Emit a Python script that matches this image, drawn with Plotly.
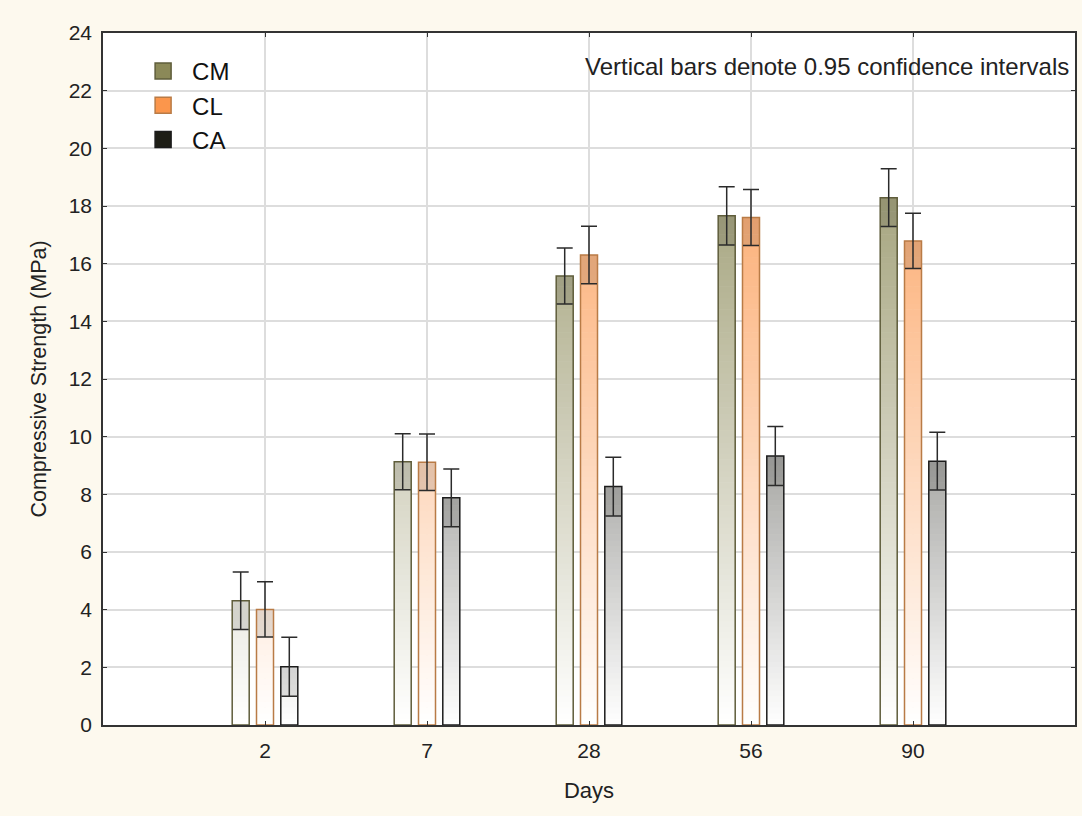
import plotly.graph_objects as go

# ---------------- data ----------------
days = ["2", "7", "28", "56", "90"]
series = ["CM", "CL", "CA"]
cm_vals = [4.31, 9.13, 15.57, 17.66, 18.29]
cl_vals = [4.01, 9.11, 16.30, 17.60, 16.79]
ca_vals = [2.02, 7.88, 8.27, 9.33, 9.15]
cm_err = [1.00, 0.97, 0.97, 1.01, 1.00]
cl_err = [0.96, 0.98, 1.00, 0.97, 0.96]
ca_err = [1.02, 1.00, 1.02, 1.02, 1.00]
y_ticks = [0, 2, 4, 6, 8, 10, 12, 14, 16, 18, 20, 22, 24]

# ---------------- styles ----------------
values = {"CM": cm_vals, "CL": cl_vals, "CA": ca_vals}
errors = {"CM": cm_err, "CL": cl_err, "CA": ca_err}
base_rgb = {"CM": (139, 137, 88), "CL": (251, 150, 76), "CA": (30, 30, 22)}
edge_col = {"CM": "#5f5d3b", "CL": "#b97b46", "CA": "#1c1c1c"}
bar_w = 0.105
centers = {"CM": -0.15, "CL": 0.0, "CA": 0.15}
YMAX = 24.0
SEG = 0.2
FONT = "Liberation Sans, Arial, sans-serif"


def blend(rgb, f):
    f = max(0.0, min(1.0, f))
    r, g, b = (round(255 - f * (255 - c)) for c in rgb)
    return f"rgb({r},{g},{b})"


fig = go.Figure()

# gradient-filled bars built from stacked thin segments
for s in series:
    xs, bases, hs, cols = [], [], [], []
    for d, v in zip(days, values[s]):
        k = 0
        while k * SEG < v:
            lo = k * SEG
            hi = min(v, lo + SEG)
            xs.append(d)
            bases.append(lo)
            hs.append(hi - lo + (0.02 if hi < v else 0))
            cols.append(blend(base_rgb[s], (lo + hi) / 2 / YMAX))
            k += 1
    fig.add_trace(go.Bar(
        x=xs, y=hs, base=bases, width=bar_w, offset=centers[s] - bar_w / 2,
        marker=dict(color=cols, line=dict(width=0)),
        showlegend=False, hoverinfo="skip",
    ))

# slightly darker box between lower CI bound and mean
for s in series:
    fig.add_trace(go.Bar(
        x=days, y=errors[s], base=[v - e for v, e in zip(values[s], errors[s])],
        width=bar_w, offset=centers[s] - bar_w / 2,
        marker=dict(color="rgba(0,0,0,0.10)", line=dict(width=0)),
        showlegend=False, hoverinfo="skip",
    ))

# outlines + confidence-interval whiskers
for s in series:
    fig.add_trace(go.Bar(
        x=days, y=values[s], width=bar_w, offset=centers[s] - bar_w / 2,
        marker=dict(color="rgba(0,0,0,0)", line=dict(color=edge_col[s], width=1.5)),
        error_y=dict(type="data", array=errors[s], color="#2b2b2b", thickness=1.5, width=8),
        name=s, showlegend=False,
    ))

# legend entries
for s in series:
    fig.add_trace(go.Scatter(
        x=[None], y=[None], mode="markers", name=s,
        marker=dict(symbol="square", size=16, color=blend(base_rgb[s], 1.0),
                    line=dict(color=edge_col[s], width=1.5)),
    ))

fig.update_layout(
    width=1082, height=816,
    margin=dict(l=103, r=5, t=33, b=91),
    paper_bgcolor="#fdf9ee",
    plot_bgcolor="white",
    barmode="overlay",
    font=dict(family=FONT, color="#222"),
    legend=dict(
        x=0.032, y=0.977, xanchor="left", yanchor="top",
        bgcolor="rgba(0,0,0,0)", font=dict(size=24, color="#111"),
        tracegroupgap=0, itemwidth=48,
    ),
    annotations=[dict(
        text="Vertical bars denote 0.95 confidence intervals",
        xref="paper", yref="paper", x=0.9955, y=0.952,
        xanchor="right", yanchor="middle", showarrow=False,
        font=dict(size=24, color="#222", family=FONT),
    )],
)

fig.update_xaxes(
    type="category", categoryorder="array", categoryarray=days,
    range=[-1, 5],
    showgrid=True, gridcolor="#dddddd", gridwidth=1.5,
    showline=True, linecolor="#333", linewidth=1.5, mirror="ticks",
    ticks="inside", ticklen=4, tickcolor="#333",
    tickfont=dict(size=21, color="#222"), ticklabelstandoff=6,
    title=dict(text="Days", font=dict(size=22, color="#222"), standoff=22),
)
fig.update_yaxes(
    range=[0, 24], tickvals=y_ticks,
    showgrid=True, gridcolor="#dddddd", gridwidth=1.5, zeroline=False,
    showline=True, linecolor="#333", linewidth=1.5, mirror="ticks",
    ticks="inside", ticklen=4, tickcolor="#333",
    tickfont=dict(size=21, color="#222"), ticklabelstandoff=5,
    title=dict(text="Compressive Strength (MPa)", font=dict(size=21.5, color="#222"), standoff=16),
)

fig.write_html("out.html")
